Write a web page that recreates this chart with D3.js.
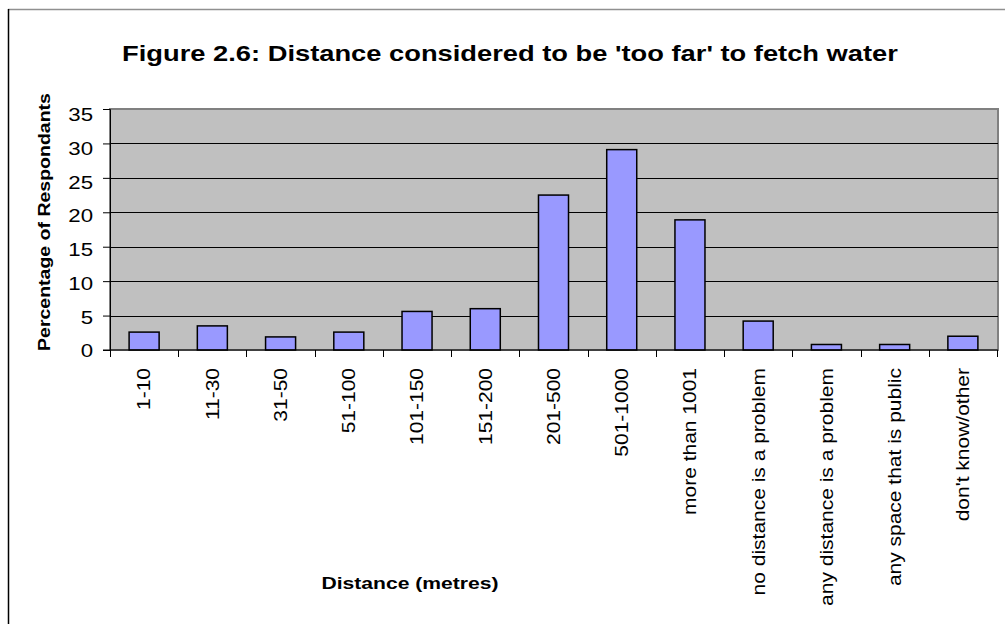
<!DOCTYPE html>
<html>
<head>
<meta charset="utf-8">
<script src="https://cdn.jsdelivr.net/npm/d3@7"></script>
<style>
  body { margin: 0; background: #fff; }
  text { font-family: Arial, "Liberation Sans", sans-serif; fill: #000; }
</style>
</head>
<body>
<div id="chart"></div>
<script>
// distance too far to fetch water

var categories = ["1-10", "11-30", "31-50", "51-100", "101-150", "151-200", "201-500",
    "501-1000", "more than 1001", "no distance is a problem", "any distance is a problem",
    "any space that is public", "don't know/other"];
var percents = [2.6, 3.5, 1.9, 2.6, 5.6, 6.0, 22.5, 29.1, 18.9, 4.2, 0.8, 0.8, 2.0];
var yTicks = [0, 5, 10, 15, 20, 25, 30, 35];

var titleText = "Figure 2.6: Distance considered to be 'too far' to fetch water";
var yTitle = "Percentage of Respondants";
var xTitle = "Distance (metres)";

// dimensions
var width = 1005;
var height = 624;
var plot = { left: 110, right: 998, top: 109, bottom: 350 };

// text in the original is wider than arial, stretch it along the baseline
var stretch = 1.27;

var svg = d3.select("#chart")
    .append("svg")
    .attr("width", width)
    .attr("height", height);

// outer chart border (only top and left visible)
svg.append("line")
    .attr("x1", 8).attr("y1", 9.5).attr("x2", width).attr("y2", 9.5)
    .attr("stroke", "#909090").attr("stroke-width", 1.5);
svg.append("line")
    .attr("x1", 8.5).attr("y1", 9).attr("x2", 8.5).attr("y2", height)
    .attr("stroke", "#000").attr("stroke-width", 1.5);

var x = d3.scaleBand()
    .domain(categories)
    .range([plot.left, plot.right - 1])
    .paddingInner(0.56)
    .paddingOuter(0.28);

var xTicks = d3.scaleBand()
    .domain(categories)
    .range([plot.left, plot.right - 1]);

var y = d3.scaleLinear()
    .domain([0, 35])
    .range([plot.bottom, plot.top]);

// the labels sit a little lower than their ticks near the top
var yLabel = d3.scaleLinear()
    .domain([0, 35])
    .range([plot.bottom + 1, plot.top + 6]);

// plot background
svg.append("rect")
    .attr("x", plot.left)
    .attr("y", plot.top)
    .attr("width", plot.right - plot.left)
    .attr("height", plot.bottom - plot.top)
    .attr("fill", "#c0c0c0")
    .attr("stroke", "#808080")
    .attr("stroke-width", 2);

// gridlines
svg.selectAll(".grid")
    .data(yTicks.filter(function (d) { return d > 0 && d < 35; }))
    .enter()
    .append("line")
    .attr("class", "grid")
    .attr("x1", plot.left)
    .attr("x2", plot.right)
    .attr("y1", function (d) { return Math.round(y(d)) + 0.5; })
    .attr("y2", function (d) { return Math.round(y(d)) + 0.5; })
    .attr("stroke", "#000")
    .attr("stroke-width", 1);

// bars
svg.selectAll(".bar")
    .data(percents)
    .enter()
    .append("rect")
    .attr("class", "bar")
    .attr("x", function (d, i) { return x(categories[i]); })
    .attr("y", function (d) { return y(d); })
    .attr("width", x.bandwidth())
    .attr("height", function (d) { return y(0) - y(d); })
    .attr("fill", "#9999ff")
    .attr("stroke", "#000")
    .attr("stroke-width", 1.5);

// y axis
var yAxis = svg.append("g")
    .attr("transform", "translate(" + plot.left + ",0)")
    .call(d3.axisLeft(y).tickValues(yTicks).tickSize(7).tickFormat(""));

// x axis, ticks between categories
var tickPos = categories.map(function (c) { return xTicks(c); }).concat([plot.right - 1]);
var xAxisG = svg.append("g");
xAxisG.append("line")
    .attr("x1", plot.left - 7).attr("x2", plot.right)
    .attr("y1", plot.bottom).attr("y2", plot.bottom)
    .attr("stroke", "#000");
xAxisG.selectAll(".xtick")
    .data(tickPos)
    .enter()
    .append("line")
    .attr("class", "xtick")
    .attr("x1", function (d) { return Math.round(d) + 0.5; })
    .attr("x2", function (d) { return Math.round(d) + 0.5; })
    .attr("y1", plot.bottom)
    .attr("y2", plot.bottom + 7)
    .attr("stroke", "#000");

svg.selectAll(".domain").attr("stroke", "#000");
svg.selectAll(".tick line").attr("stroke", "#000");

// y tick labels
svg.selectAll(".ylab")
    .data(yTicks)
    .enter()
    .append("text")
    .attr("class", "ylab")
    .attr("transform", function (d) {
        return "translate(93," + yLabel(d) + ") scale(" + stretch + ",1)";
    })
    .attr("dy", "0.36em")
    .attr("text-anchor", "end")
    .style("font-size", "17.5px")
    .text(function (d) { return d; });

// x tick labels, rotated
svg.selectAll(".xlab")
    .data(categories)
    .enter()
    .append("text")
    .attr("class", "xlab")
    .attr("transform", function (d) {
        return "translate(" + (xTicks(d) + xTicks.bandwidth() / 2) + ",368) rotate(-90) scale(1.2,1)";
    })
    .attr("dy", "0.36em")
    .attr("text-anchor", "end")
    .style("font-size", "17.5px")
    .text(function (d) { return d; });

// title
svg.append("text")
    .attr("transform", "translate(510,61) scale(1.27,1)")
    .attr("text-anchor", "middle")
    .style("font-size", "21.5px")
    .style("font-weight", "bold")
    .text(titleText);

// axis titles
svg.append("text")
    .attr("transform", "translate(44,222) rotate(-90) scale(1.22,1)")
    .attr("dy", "0.36em")
    .attr("text-anchor", "middle")
    .style("font-size", "16px")
    .style("font-weight", "bold")
    .text(yTitle);

svg.append("text")
    .attr("transform", "translate(410,589) scale(1.32,1)")
    .attr("text-anchor", "middle")
    .style("font-size", "16px")
    .style("font-weight", "bold")
    .text(xTitle);
</script>
</body>
</html>
